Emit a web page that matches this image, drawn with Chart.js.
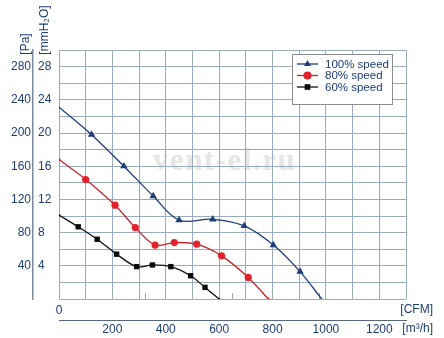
<!DOCTYPE html>
<html>
<head>
<meta charset="utf-8">
<script src="https://cdn.jsdelivr.net/npm/chart.js@4"></script>
<style>
    html, body { margin: 0; padding: 0; background: #fff; }
    #wrap { width: 444px; height: 338px; }
</style>
</head>
<body>
<div id="wrap"><canvas id="fan-chart" width="444" height="338"></canvas></div>
<script>
// airflow in m3/h, pressure in Pa
const speedLabels = ['100% speed', '80% speed', '60% speed'];
const flow100 = [0, 122, 243, 353, 450, 576, 694, 803, 903, 984];
const pres100 = [231, 198, 160, 124, 95, 96, 88, 65, 33, 0];
const flow80 = [0, 100, 210, 286, 360, 432, 516, 609, 709, 784];
const pres80 = [168, 144, 113, 86, 65, 68, 66, 52, 26, 0];
const flow60 = [0, 72, 143, 216, 291, 350, 419, 493, 547, 600];
const pres60 = [101, 87, 72, 54, 39, 41, 39, 28, 14, 0];

const paTicks = [40, 80, 120, 160, 200, 240, 280];
const m3hTicks = [200, 400, 600, 800, 1000, 1200];
const cfmTicks = [0, 200, 400, 600];
const M3H_PER_CFM = 1.699;

const navy = '#1d3c74';
const gridColor = '#9aabbf';
const font = { family: "'Liberation Sans', Arial, sans-serif", size: 12 };

function points(xs, ys) {
    return xs.map((x, i) => ({ x: x, y: ys[i] }));
}

function radii(n, r) {
    return Array.from({ length: n }, (_, i) => (i === 0 || i === n - 1) ? 1.5 : r);
}

// faint watermark behind the grid
const watermarkPlugin = {
    id: 'watermark',
    beforeDraw(chart) {
        const { ctx, chartArea } = chart;
        ctx.save();
        ctx.font = "bold 31px 'Liberation Serif', 'DejaVu Serif', serif";
        ctx.letterSpacing = '1.5px';
        ctx.fillStyle = '#e6e6e6';
        ctx.textAlign = 'center';
        ctx.textBaseline = 'middle';
        ctx.fillText('vent-el.ru', (chartArea.left + chartArea.right) / 2 - 8, chartArea.top + 112);
        ctx.restore();
    }
};

// axis unit captions and the boxed legend
const captionsPlugin = {
    id: 'captions',
    afterLayout(chart) {
        // push the mmH2O labels a little off the Pa axis line
        chart.scales.mm.left += 5;
    },
    afterDraw(chart) {
        const { ctx, chartArea, scales } = chart;
        ctx.save();
        ctx.fillStyle = navy;
        ctx.font = font.size + 'px ' + font.family;
        ctx.textBaseline = 'middle';

        ctx.save();
        ctx.translate(scales.y.right - 7, 44);
        ctx.rotate(-Math.PI / 2);
        ctx.textAlign = 'center';
        ctx.fillText('[Pa]', 0, 0);
        ctx.restore();

        ctx.save();
        ctx.translate(scales.mm.left + 7, 30);
        ctx.rotate(-Math.PI / 2);
        ctx.textAlign = 'center';
        ctx.fillText('[mmH\u2082O]', 0, 0);
        ctx.restore();

        ctx.textAlign = 'right';
        ctx.fillText('[CFM]', chart.width - 11, scales.cfm.top + 11);
        ctx.fillText('[m\u00B3/h]', chart.width - 11, scales.x.top + 9);

        // legend box
        const bw = 100, bh = 50;
        const bx = chartArea.right - 14 - bw;
        const by = chartArea.top + 4;
        ctx.fillStyle = '#fff';
        ctx.fillRect(bx, by, bw, bh);
        ctx.strokeStyle = '#8c8c8c';
        ctx.lineWidth = 1;
        ctx.strokeRect(bx + 0.5, by + 0.5, bw, bh);

        ctx.font = '11.5px ' + font.family;
        ctx.textAlign = 'left';
        chart.data.datasets.forEach((ds, i) => {
            const y = by + 10 + i * 11.5;
            ctx.strokeStyle = ds.borderColor;
            ctx.lineWidth = 1.3;
            ctx.beginPath();
            ctx.moveTo(bx + 5, y);
            ctx.lineTo(bx + 26, y);
            ctx.stroke();
            ctx.fillStyle = ds.pointBackgroundColor;
            Chart.helpers.drawPoint(ctx, { pointStyle: ds.pointStyle, radius: 4, rotation: 0, borderWidth: 0 }, bx + 15.5, y);
            ctx.fillStyle = navy;
            ctx.fillText(ds.label, bx + 33, y + 0.5);
        });
        ctx.restore();
    }
};

new Chart(document.getElementById('fan-chart'), {
    type: 'line',
    data: {
        datasets: [{
            label: speedLabels[0],
            data: points(flow100, pres100),
            borderColor: '#1f3d78',
            pointBackgroundColor: '#1f3d78',
            pointBorderWidth: 0,
            pointStyle: 'triangle',
            pointRadius: radii(flow100.length, 4.3),
            borderWidth: 1.3,
            tension: 0.35
        }, {
            label: speedLabels[1],
            data: points(flow80, pres80),
            borderColor: '#c4262c',
            pointBackgroundColor: '#e2212a',
            pointBorderWidth: 0,
            pointStyle: 'circle',
            pointRadius: radii(flow80.length, 3.6),
            borderWidth: 1.3,
            tension: 0.35
        }, {
            label: speedLabels[2],
            data: points(flow60, pres60),
            borderColor: '#111111',
            pointBackgroundColor: '#0a0a0a',
            pointBorderWidth: 0,
            pointStyle: 'rect',
            pointRadius: radii(flow60.length, 3.8),
            borderWidth: 1.3,
            tension: 0.35
        }]
    },
    options: {
        responsive: false,
        animation: false,
        layout: { padding: { top: 50, right: 38, left: 0, bottom: 0 } },
        plugins: {
            legend: { display: false },
            tooltip: { enabled: false }
        },
        scales: {
            x: {
                type: 'linear',
                position: 'bottom',
                weight: 1,
                min: 0,
                max: 1300,
                afterFit(scale) { scale.height = 18; },
                ticks: {
                    stepSize: 100,
                    maxRotation: 0,
                    autoSkip: false,
                    padding: 2,
                    color: navy,
                    font: font,
                    callback: v => m3hTicks.includes(v) ? v : ''
                },
                grid: { color: gridColor, drawTicks: false },
                border: { display: true, color: '#56667f', width: 1 }
            },
            cfm: {
                type: 'linear',
                position: 'bottom',
                weight: 0,
                min: 0,
                max: 1300 / M3H_PER_CFM,
                afterFit(scale) { scale.height = 21; },
                ticks: {
                    stepSize: 200,
                    includeBounds: false,
                    maxRotation: 0,
                    autoSkip: false,
                    padding: 10,
                    color: navy,
                    font: font,
                    callback: v => cfmTicks.includes(v) ? v : ''
                },
                grid: { drawOnChartArea: false, drawTicks: true, tickLength: -6, color: '#9aa8b8' },
                border: { display: false }
            },
            y: {
                type: 'linear',
                position: 'left',
                weight: 1,
                min: 0,
                max: 300,
                afterFit(scale) { scale.width = 33; },
                ticks: {
                    stepSize: 20,
                    autoSkip: false,
                    padding: 2,
                    color: navy,
                    font: font,
                    callback: v => paTicks.includes(v) ? v : ''
                },
                grid: { color: gridColor, drawTicks: false },
                border: { display: true, color: '#7d8a9b', width: 1.5 }
            },
            mm: {
                type: 'linear',
                position: 'left',
                weight: 0,
                min: 0,
                max: 300,
                afterFit(scale) { scale.width = 26; },
                ticks: {
                    stepSize: 20,
                    autoSkip: false,
                    crossAlign: 'far',
                    color: navy,
                    font: font,
                    callback: v => paTicks.includes(v) ? v / 10 : ''
                },
                grid: { display: false },
                border: { display: false }
            }
        }
    },
    plugins: [watermarkPlugin, captionsPlugin]
});
</script>
</body>
</html>
